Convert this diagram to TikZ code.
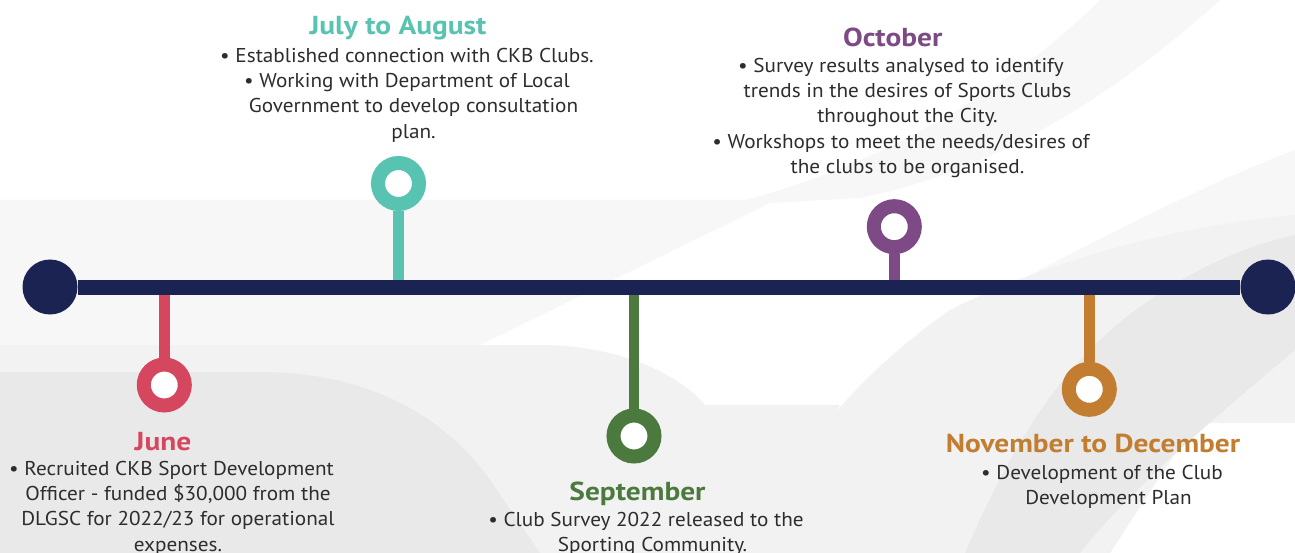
\documentclass[tikz,border=0pt]{standalone}
\usepackage{fontspec}
\setmainfont{PT Sans}
\newfontfamily\bodyfont[FakeStretch=1.06]{PT Sans}
\newfontfamily\headfont[FakeStretch=1.13]{PT Sans Bold}
\definecolor{navy}{HTML}{1B2353}
\definecolor{teal}{HTML}{58C3B1}
\definecolor{plum}{HTML}{7D4A85}
\definecolor{rose}{HTML}{D5465F}
\definecolor{moss}{HTML}{4C7A3E}
\definecolor{ochre}{HTML}{C27D31}
\definecolor{txt}{HTML}{2D2D2D}
\definecolor{bgA}{HTML}{F7F7F7}
\definecolor{bgB}{HTML}{F2F2F2}
\definecolor{bgC}{HTML}{E9E9E9}
\newcommand\cont{\hspace*{13pt}}
\begin{document}
\begin{tikzpicture}[x=1pt,y=-1pt,
  ring/.style={circle, line width=14pt, fill=white, minimum size=41pt, inner sep=0pt},
  stem/.style={line width=10.5pt},
  enddot/.style={circle, fill=navy, minimum size=55pt, inner sep=0pt},
  mainline/.style={navy, line width=15pt},
  head/.style={font=\headfont\fontsize{26}{30}\selectfont, inner sep=0pt, anchor=base},
  body/.style={font=\bodyfont\fontsize{20}{25.2}\selectfont, text=txt, align=center, inner sep=0pt, anchor=north}]
\useasboundingbox (0,0) rectangle (1295,553);
\fill[white] (0,0) rectangle (1295,553);

% background swooshes
\fill[bgA] (0,200) -- (745,200) .. controls (880,165) and (1010,90) .. (1100,0)
  -- (1220,0) .. controls (1120,90) and (1000,170) .. (860,198) -- (770,203)
  -- (480,345) -- (0,345) -- cycle;
\fill[bgB] (0,345) -- (540,345) .. controls (620,345) and (680,375) .. (705,405)
  -- (840,405) -- (760,553) -- (0,553) -- cycle;
\fill[bgA] (1000,290) .. controls (1080,250) and (1190,190) .. (1295,150)
  -- (1295,240) -- cycle;
\fill[bgB] (745,553) .. controls (790,460) and (850,380) .. (950,310)
  .. controls (1050,260) and (1180,225) .. (1295,215) -- (1295,423) -- (1195,423)
  -- (1110,553) -- cycle;
\fill[bgC] (0,372) -- (260,372) .. controls (360,372) and (440,410) .. (490,480)
  -- (540,553) -- (0,553) -- cycle;
\fill[bgC] (965,553) .. controls (1010,450) and (1060,360) .. (1150,300)
  .. controls (1200,265) and (1250,245) .. (1295,235) -- (1295,350)
  .. controls (1200,430) and (1130,490) .. (1080,553) -- cycle;

% timeline
\node[enddot] (L) at (50,287) {};
\node[enddot] (R) at (1268,287) {};
\coordinate (axis) at (0,287);

\node[ring, draw=rose]  (jun) at (164.3,385) {};
\node[ring, draw=teal]  (jul) at (398.5,183.5) {};
\node[ring, draw=moss]  (sep) at (634,436) {};
\node[ring, draw=plum]  (oct) at (894.3,226.7) {};
\node[ring, draw=ochre] (nov) at (1089.3,389.3) {};

\draw[stem, rose]  (jun.north) -- (jun.north |- axis);
\draw[stem, teal]  (jul.south) -- (jul.south |- axis);
\draw[stem, moss]  (sep.north) -- (sep.north |- axis);
\draw[stem, plum]  (oct.south) -- (oct.south |- axis);
\draw[stem, ochre] (nov.north) -- (nov.north |- axis);

\draw[mainline] (L) -- (R);

% headings
\node[head, text=rose]  (hjun) at (163,450) {June};
\node[head, text=teal]  (hjul) at (398,35) {July to August};
\node[head, text=moss]  (hsep) at (637.5,500) {September};
\node[head, text=plum]  (hoct) at (892.7,46.7) {October};
\node[head, text=ochre] (hnov) at (1093,452.7) {November to December};

% descriptions
\node[body] (tjun) at (171.5,461) {• Recruited CKB Sport Development\\
  \cont Officer - funded \$30,000 from the\\
  \cont DLGSC for 2022/23 for operational\\
  \cont expenses.};
\node[body] (tjul) at (407,48) {• Established connection with CKB Clubs.\\
  • Working with Department of Local\\
  \cont Government to develop consultation\\
  \cont plan.};
\node[body] (tsep) at (646,512) {• Club Survey 2022 released to the\\
  \cont Sporting Community.};
\node[body] (toct) at (901,58) {• Survey results analysed to identify\\
  \cont trends in the desires of Sports Clubs\\
  \cont throughout the City.\\
  • Workshops to meet the needs/desires of\\
  \cont the clubs to be organised.};
\node[body] (tnov) at (1102,465) {• Development of the Club\\
  \cont Development Plan};
\end{tikzpicture}
\end{document}
